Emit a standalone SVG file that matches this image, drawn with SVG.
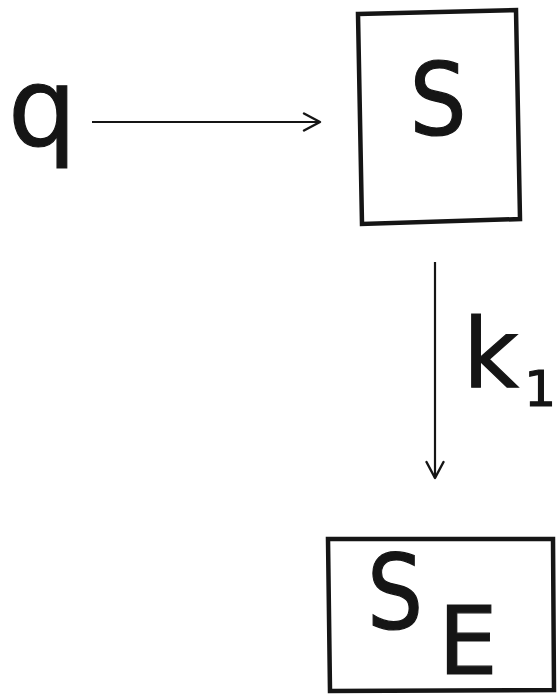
<svg xmlns="http://www.w3.org/2000/svg" width="557" height="696" viewBox="0 0 557 696">
<defs>
<style>
.box{fill:none;stroke:#151515;stroke-width:4.5;stroke-linejoin:miter}
.edge{fill:none;stroke:#151515;stroke-width:2.2}
.lbl{font-family:"DejaVu Sans","Liberation Sans",sans-serif;fill:#151515;stroke:#151515;stroke-width:1.2}
</style>
<marker id="ah" viewBox="0 0 20 20" refX="18" refY="10" markerWidth="20" markerHeight="20" markerUnits="userSpaceOnUse" orient="auto">
<path d="M2,1.5 L18,10 L2,18.5" fill="none" stroke="#151515" stroke-width="2.4" stroke-linecap="round" stroke-linejoin="round"/>
</marker>
</defs>
<rect width="557" height="696" fill="#ffffff"/>
<g id="q">
<text class="lbl" x="8" y="145" font-size="108">q</text>
</g>
<g id="S">
<path class="box" d="M358,14 L516,10 L520,219 L362,224 Z"/>
<text class="lbl" x="438" y="135" font-size="100" text-anchor="middle" transform="translate(438,0) scale(0.9,1) translate(-438,0)">S</text>
</g>
<g id="SE">
<path class="box" d="M328,539 L553,539 L554,690 L330,691 Z"/>
<text class="lbl" x="395" y="629" font-size="104" text-anchor="middle" transform="translate(395,0) scale(0.85,1) translate(-395,0)">S</text>
<text class="lbl" x="468" y="674" font-size="94" text-anchor="middle">E</text>
</g>
<g id="connectors">
<line class="edge" x1="92" y1="122" x2="320" y2="122" marker-end="url(#ah)"/>
<line class="edge" x1="435" y1="262" x2="435" y2="478" marker-end="url(#ah)"/>
</g>
<g id="labels">
<text class="lbl" x="463" y="387" font-size="96">k</text>
<text class="lbl" x="556" y="406" font-size="50" text-anchor="end">1</text>
</g>
</svg>
